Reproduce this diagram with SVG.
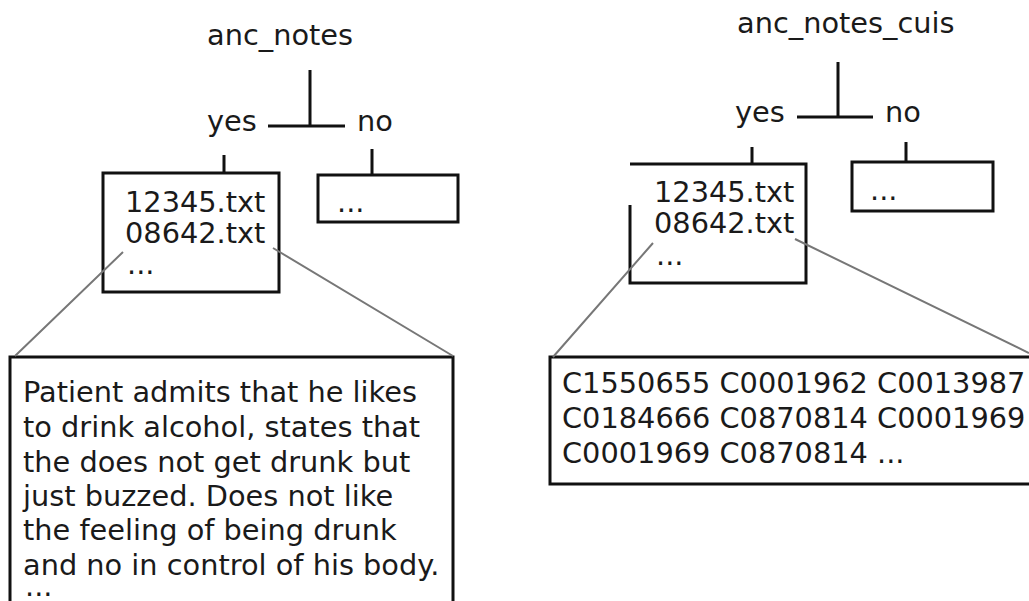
<svg xmlns="http://www.w3.org/2000/svg" width="1029" height="601" viewBox="0 0 1029 601">
<style>
text{font-family:"DejaVu Sans",sans-serif;font-size:28.8px;fill:#1a1a1a}
.box{fill:#fff;stroke:#111;stroke-width:3}
.tree{fill:none;stroke:#111;stroke-width:3}
.zoom{fill:none;stroke:#777;stroke-width:2}
</style>
<rect width="1029" height="601" fill="#fff"/>
<g id="left-root"><text x="207" y="45">anc_notes</text></g>
<g id="left-yes-label"><text x="207" y="131">yes</text></g>
<g id="left-no-label"><text x="357" y="131">no</text></g>
<g id="left-yes-box">
<rect class="box" x="103" y="173" width="176" height="119"/>
<text x="125" y="212">12345.txt</text>
<text x="125" y="243">08642.txt</text>
<text x="127" y="274">...</text>
</g>
<g id="left-no-box">
<rect class="box" x="318" y="175" width="140" height="47"/>
<text x="337" y="212">...</text>
</g>
<g id="left-note-box">
<rect class="box" x="10" y="357" width="443" height="260"/>
<text x="23" y="402">Patient admits that he likes</text>
<text x="23" y="437">to drink alcohol, states that</text>
<text x="23" y="472">the does not get drunk but</text>
<text x="23" y="506">just buzzed. Does not like</text>
<text x="23" y="540">the feeling of being drunk</text>
<text x="23" y="575">and no in control of his body.</text>
<text x="25" y="596">...</text>
</g>
<g id="right-root"><text x="737" y="33">anc_notes_cuis</text></g>
<g id="right-yes-label"><text x="735" y="122">yes</text></g>
<g id="right-no-label"><text x="885" y="122">no</text></g>
<g id="right-yes-box">
<rect x="630" y="164" width="176" height="119" fill="#fff"/>
<path class="tree" d="M630 164H806V283H630V205"/>
<text x="654" y="202">12345.txt</text>
<text x="654" y="233">08642.txt</text>
<text x="656" y="265">...</text>
</g>
<g id="right-no-box">
<rect class="box" x="852" y="162" width="141" height="49"/>
<text x="870" y="200">...</text>
</g>
<g id="right-cui-box">
<rect class="box" x="550" y="357" width="500" height="127"/>
<text x="562" y="393">C1550655 C0001962 C0013987</text>
<text x="562" y="428">C0184666 C0870814 C0001969</text>
<text x="562" y="463">C0001969 C0870814 ...</text>
</g>
<g id="connectors">
<path class="tree" d="M310 70V126M268 126H345M224 155V173M372 149V175"/>
<path class="tree" d="M838 62V117M797 117H873M752 147V164M906 142V162"/>
<path class="zoom" d="M123 252L15 356M273 248L453 356"/>
<path class="zoom" d="M653 243L553 357M795 239L1029 353"/>
</g>
</svg>
